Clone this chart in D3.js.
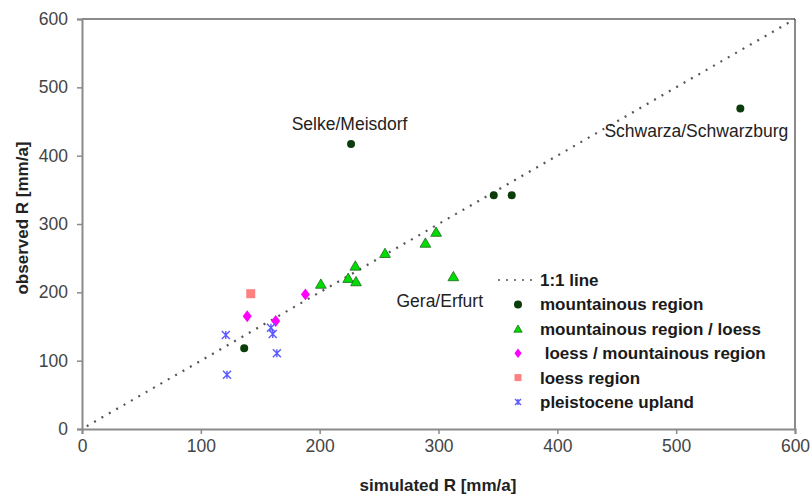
<!DOCTYPE html>
<html><head><meta charset="utf-8">
<script src="https://cdn.jsdelivr.net/npm/d3@7"></script>
<style>body{margin:0;background:#fff}svg{display:block}text{font-family:"Liberation Sans",Arial,sans-serif}</style>
</head><body><svg id="c" width="812" height="495"></svg>
<script>
const xTicks = [0,100,200,300,400,500,600];
const yTicks = [0,100,200,300,400,500,600];
const mountX = [136.5,226.4,346.5,361.6,554];
const mountY = [118,417,342,342,469];
const mlX = [201,224,230.6,230,255,289,298,312.5];
const mlY = [212,220.5,215.6,238.5,257,272,288,223];
const lmX = [139,163,188];
const lmY = [165,158,197];
const loessX = [142];
const loessY = [198];
const pleiX = [121,122,159,160.5,164];
const pleiY = [137.5,79.5,148,139,111];
const seriesNames = ["1:1 line","mountainous region","mountainous region / loess"," loess / mountainous region","loess region","pleistocene upland"];
const labelNames = ["Selke/Meisdorf","Schwarza/Schwarzburg","Gera/Erfurt"];
const labelX = [226,554,312];
const labelY = [417,469,223];

const svg = d3.select("#c");
const x = d3.scaleLinear().domain([0,600]).range([82,795]);
const y = d3.scaleLinear().domain([0,600]).range([429,19]);
const axisCol = "#8a8a8a";

svg.append("line").attr("x1",x(0)).attr("x2",x(600)).attr("y1",y(600)).attr("y2",y(600)).attr("stroke",axisCol).attr("stroke-width",2);
svg.append("line").attr("x1",x(600)).attr("x2",x(600)).attr("y1",y(600)).attr("y2",y(0)).attr("stroke",axisCol).attr("stroke-width",2);

const xa = svg.append("g").attr("transform",`translate(0,${y(0)})`)
  .call(d3.axisBottom(x).tickValues(xTicks).tickSize(5).tickPadding(6));
const ya = svg.append("g").attr("transform",`translate(${x(0)},0)`)
  .call(d3.axisLeft(y).tickValues(yTicks).tickSize(5).tickPadding(9));
[xa,ya].forEach(g=>{
  g.select(".domain").attr("stroke",axisCol).attr("stroke-width",2);
  g.selectAll(".tick line").attr("stroke",axisCol).attr("stroke-width",1.5);
  g.selectAll("text").attr("font-size",17.5).attr("fill","#444").attr("font-family","Liberation Sans, Arial, sans-serif");
});

svg.append("line").attr("x1",x(4)).attr("y1",y(4)).attr("x2",x(600)).attr("y2",y(600))
  .attr("stroke","#555").attr("stroke-width",2.2).attr("stroke-dasharray","2,6.5");

function circ(g,cx,cy){g.append("circle").attr("cx",cx).attr("cy",cy).attr("r",4).attr("fill","#0a3d0a");}
function tri(g,cx,cy,s){g.append("path").attr("d",d3.symbol(d3.symbolTriangle,s||50)()).attr("transform",`translate(${cx},${cy+1})`).attr("fill","#00dd00").attr("stroke","#226622").attr("stroke-width",0.8);}
function dia(g,cx,cy,s){g.append("path").attr("d",d3.symbol(d3.symbolDiamond,s||45)()).attr("transform",`translate(${cx},${cy}) scale(1.25,0.95)`).attr("fill","#ff00ff");}
function sq(g,cx,cy,s){const h=(s||9)/2;g.append("rect").attr("x",cx-h).attr("y",cy-h).attr("width",2*h).attr("height",2*h).attr("fill","#ff8080");}
function cross(g,cx,cy,s){const h=s||4;g.append("path").attr("d",`M${cx-h},${cy-h}L${cx+h},${cy+h}M${cx-h},${cy+h}L${cx+h},${cy-h}M${cx},${cy-h}L${cx},${cy+h}`).attr("stroke","#5a5aff").attr("stroke-width",1.4).attr("fill","none");}

const pts = svg.append("g");
mountX.forEach((v,i)=>circ(pts,x(v),y(mountY[i])));
mlX.forEach((v,i)=>tri(pts,x(v),y(mlY[i])));
lmX.forEach((v,i)=>dia(pts,x(v),y(lmY[i])));
loessX.forEach((v,i)=>sq(pts,x(v),y(loessY[i])));
pleiX.forEach((v,i)=>cross(pts,x(v),y(pleiY[i])));

const ann = [[0,-1,-14],[1,-44,28],[2,-13,30]];
ann.forEach(([i,dx,dy])=>{
  svg.append("text").attr("x",x(labelX[i])+dx).attr("y",y(labelY[i])+dy)
   .attr("text-anchor","middle").attr("font-size",17.5).attr("fill","#222").text(labelNames[i]);
});

const lg = svg.append("g");
const ly0 = 280, ldy = 24.4;
seriesNames.forEach((n,i)=>{
  const yy = ly0 + i*ldy;
  lg.append("text").attr("x",540).attr("y",yy+6).attr("font-size",17).attr("font-weight","bold").attr("fill","#1a1a1a").style("white-space","pre").text(n);
});
lg.append("line").attr("x1",498).attr("x2",536).attr("y1",ly0).attr("y2",ly0).attr("stroke","#777").attr("stroke-width",2).attr("stroke-dasharray","2,6");
circ(lg,518,ly0+ldy);
tri(lg,518,ly0+2*ldy,30);
dia(lg,518,ly0+3*ldy,28);
sq(lg,518,ly0+4*ldy,7);
cross(lg,518,ly0+5*ldy,3);

svg.append("text").attr("x",438).attr("y",491).attr("text-anchor","middle").attr("font-size",17).attr("font-weight","bold").attr("fill","#222").text("simulated R [mm/a]");
svg.append("text").attr("transform","translate(28,218) rotate(-90)").attr("text-anchor","middle").attr("font-size",17).attr("font-weight","bold").attr("fill","#222").text("observed R [mm/a]");
</script></body></html>
